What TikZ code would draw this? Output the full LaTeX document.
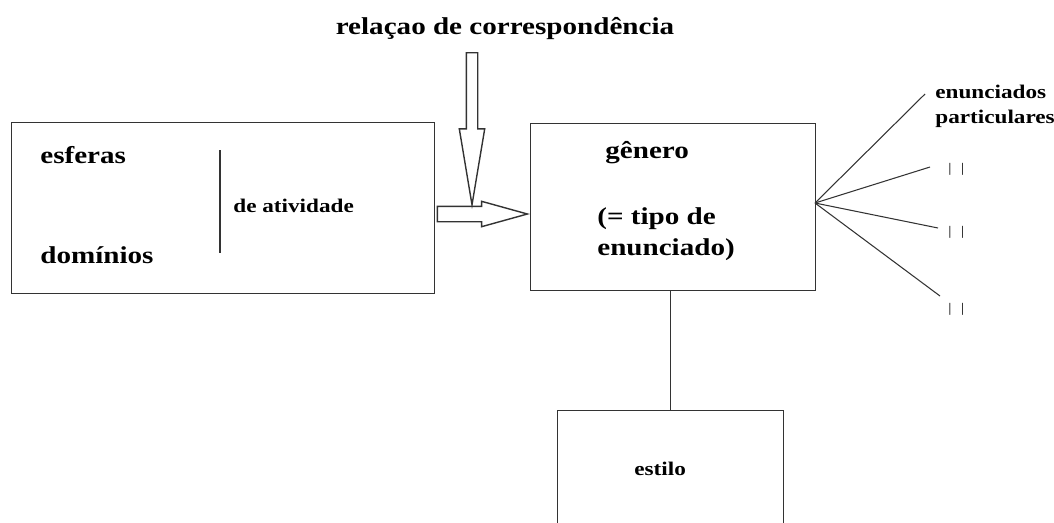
\documentclass[tikz,border=0pt]{standalone}
\usepackage{fontspec}
\setmainfont[FakeStretch=1.2]{Liberation Serif}
\usetikzlibrary{shapes.arrows,positioning}

\tikzset{
  caixa/.style={draw=black!80, line width=0.8pt, inner sep=0pt, anchor=north west},
  grande/.style={font=\fontsize{13.8}{16}\selectfont\bfseries, inner sep=0pt, anchor=base west},
  pequeno/.style={font=\fontsize{11}{13}\selectfont\bfseries, inner sep=0pt, anchor=base west},
  aspas/.style={font=\fontsize{7.5}{8}\selectfont, inner sep=0pt, anchor=base west},
  seta/.style={single arrow, draw=black!80, line width=0.8pt, inner xsep=0pt, anchor=tip},
  fio/.style={draw=black!80, line width=0.8pt},
}

\begin{document}
\begin{tikzpicture}[x=0.02cm, y=-0.02cm]
        \useasboundingbox (0,0) rectangle (1054,522);
        %Título
            \node[grande, anchor=base] (titulo) at (505,34) {relaçao de correspondência};
        %Caixas
            \node[caixa, minimum width=8.46cm, minimum height=3.42cm] (esferas) at (11,122) {};
            \node[caixa, minimum width=5.7cm, minimum height=3.34cm] (genero) at (530,123) {};
            \node[caixa, minimum width=4.52cm, minimum height=3.4cm] (estilo) at (557,410) {};
        %Textos
            \node[grande] (esf) at (40,163) {esferas};
            \node[grande] (dom) at (40,263) {domínios};
            \node[pequeno] (ativ) at (233,212) {de atividade};
            \node[grande] (gen) at (605,158) {gênero};
            \node[grande] (tipo) at (597,224) {(= tipo de};
            \node[grande] (enun) at (597,255) {enunciado)};
            \node[pequeno] (est) at (634,475) {estilo};
            \node[pequeno] (enpart) at (935,98) {enunciados};
            \node[pequeno] (part) at (935,123) {particulares};
        %Aspas
        \foreach \n/\y in {1/172, 2/235, 3/312}{
            \node[aspas] (aspa\n) at (948,\y) {|\hspace{5.5pt}|};
        }
        %Setas
            \node[seta, rotate=-90, minimum height=3.04cm, inner ysep=0.1cm,
                  single arrow head extend=0.14cm, single arrow tip angle=19] (corresp) at (472,209) {};
            \node[seta, minimum height=1.8cm, inner ysep=0.14cm,
                  single arrow head extend=0.1cm, single arrow tip angle=31] (entrada) at (genero.west |- 0,214) {};
        %Linhas
            \draw[fio] (220,150)--(220,253);
            \draw[fio] (estilo.north |- genero.south)--(estilo.north);
            \coordinate (hub) at (815,203);
            \foreach \x/\y in {925/94, 930/167, 938/228, 940/296}{
                \draw[fio, line width=0.6pt] (hub)--(\x,\y);
            }
\end{tikzpicture}
\end{document}
